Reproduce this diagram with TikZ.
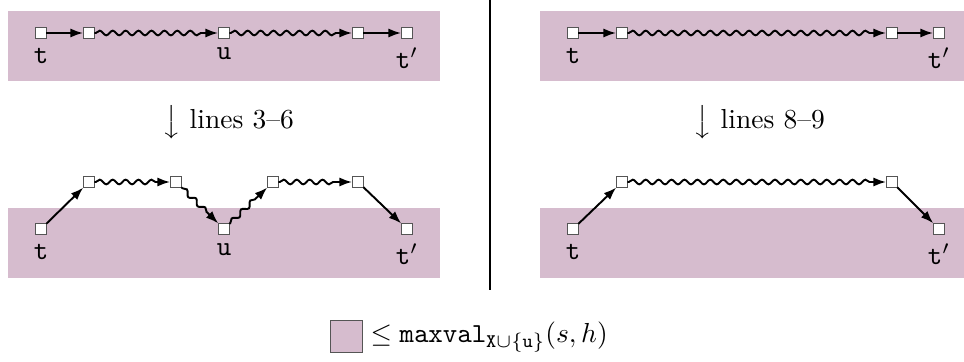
\documentclass[tikz,border=0pt]{standalone}
\usetikzlibrary{arrows.meta,decorations.pathmorphing}
\definecolor{panel}{RGB}{214,188,206}
\definecolor{boxedge}{RGB}{85,85,85}
\begin{document}
\begin{tikzpicture}[x=0.3636pt,y=-0.3636pt,
  sq/.style={draw=boxedge,fill=white,line width=0.5pt,minimum size=3.9pt,inner sep=0pt,outer sep=0pt,label distance=0.6pt},
  panelbox/.style={fill=panel,draw=none},
  edge/.style={line width=0.7pt,-{Latex[length=4.6pt,width=3.3pt]},shorten >=0.2pt},
  wavy/.style={edge,decorate,decoration={snake,amplitude=0.85pt,segment length=4.7pt,post length=4.8pt,pre length=0.5pt}},
  lab/.style={font=\normalsize}]
\useasboundingbox (0,0) rectangle (964,361);
% panels
\fill[panelbox] (8,11) rectangle (440,81);
\fill[panelbox] (8,208) rectangle (440,278);
\fill[panelbox] (540,11) rectangle (964,81);
\fill[panelbox] (540,208) rectangle (964,278);
% divider
\coordinate (vt) at (490,0);
\coordinate (vb) at (490,290);
\draw[line width=0.4pt] (vt) -- (vb);
% top left
\node[sq,label={below:\texttt{t}}] (a1) at (41,33) {};
\node[sq] (a2) at (89,33) {};
\node[sq,label={below:\texttt{u}}] (a3) at (224,33) {};
\node[sq] (a4) at (358,33) {};
\node[sq,label={below:$\texttt{t}'$}] (a5) at (407,33) {};
\draw[edge] (a1) -- (a2);
\draw[wavy] (a2) -- (a3);
\draw[wavy] (a3) -- (a4);
\draw[edge] (a4) -- (a5);
% top right
\node[sq,label={below:\texttt{t}}] (b1) at (573,33) {};
\node[sq] (b2) at (622,33) {};
\node[sq] (b3) at (892,33) {};
\node[sq,label={below:$\texttt{t}'$}] (b4) at (939,33) {};
\draw[edge] (b1) -- (b2);
\draw[wavy] (b2) -- (b3);
\draw[edge] (b3) -- (b4);
% step labels
\node[lab] (s1) at (228,122) {$\big\downarrow$ lines 3--6};
\node[lab] (s2) at (759,122) {$\big\downarrow$ lines 8--9};
% bottom left
\node[sq,label={below:\texttt{t}}] (c1) at (41,229) {};
\node[sq] (c2) at (89,182) {};
\node[sq] (c3) at (176,182) {};
\node[sq,label={below:\texttt{u}}] (c4) at (224,229) {};
\node[sq] (c5) at (273,182) {};
\node[sq] (c6) at (358,182) {};
\node[sq,label={below:$\texttt{t}'$}] (c7) at (407,229) {};
\draw[edge] (c1) -- (c2);
\draw[wavy] (c2) -- (c3);
\draw[wavy] (c3) -- (c4);
\draw[wavy] (c4) -- (c5);
\draw[wavy] (c5) -- (c6);
\draw[edge] (c6) -- (c7);
% bottom right
\node[sq,label={below:\texttt{t}}] (d1) at (573,229) {};
\node[sq] (d2) at (622,182) {};
\node[sq] (d3) at (892,182) {};
\node[sq,label={below:$\texttt{t}'$}] (d4) at (939,229) {};
\draw[edge] (d1) -- (d2);
\draw[wavy] (d2) -- (d3);
\draw[edge] (d3) -- (d4);
% legend
\node[draw=boxedge,fill=panel,line width=0.5pt,minimum size=11.8pt,inner sep=0pt] (lg) at (346.5,336.5) {};
\node[anchor=west,inner sep=0pt] (lgt) at (370,337) {$\leq \mathtt{maxval}_{\mathtt{X}\cup\{\mathtt{u}\}}(s,h)$};
\end{tikzpicture}
\end{document}
